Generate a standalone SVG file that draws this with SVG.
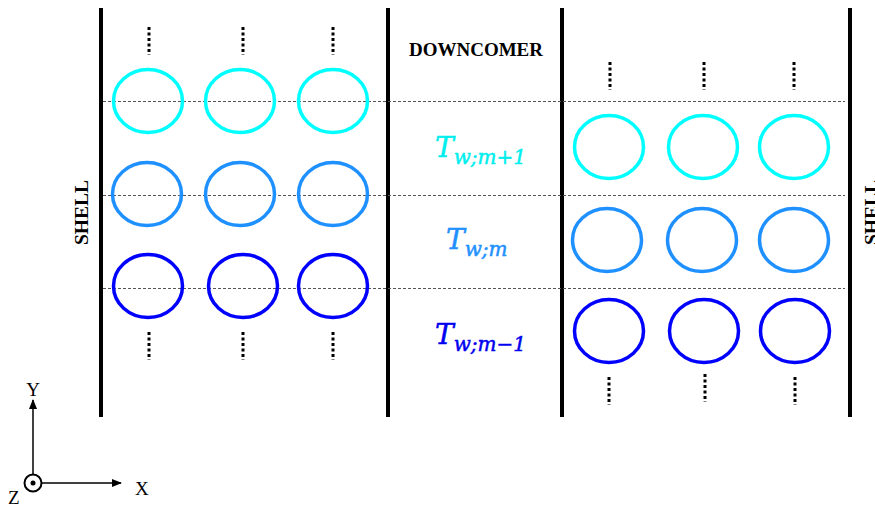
<svg xmlns="http://www.w3.org/2000/svg" width="875" height="507" viewBox="0 0 875 507">
<style>
.wall{stroke:#000;stroke-width:4}
.dash{stroke:#555;stroke-width:1;stroke-dasharray:3 2;fill:none}
.tube{fill:none;stroke-width:3.5}
.c1{stroke:#00FFFF}
.c2{stroke:#1E90FF}
.c3{stroke:#0000FF}
.dots{stroke:#000;stroke-width:3;stroke-dasharray:3 2.5}
.lbl{font-family:"Liberation Serif",serif;font-weight:bold;fill:#000}
.tl{font-family:"DejaVu Serif","Liberation Serif",serif;font-style:italic;stroke-width:0.5}
.ax{font-family:"Liberation Serif",serif;font-size:19px;fill:#000}
</style>
<defs>
<marker id="ah" markerWidth="10" markerHeight="8" refX="9" refY="4" orient="auto" markerUnits="userSpaceOnUse">
<path d="M0,0 L10,4 L0,8 z" fill="#000"/>
</marker>
</defs>
<g id="walls">
<line class="wall" x1="101" y1="8" x2="101" y2="417"/>
<line class="wall" x1="388" y1="8" x2="388" y2="417"/>
<line class="wall" x1="562" y1="8" x2="562" y2="417"/>
<line class="wall" x1="850" y1="8" x2="850" y2="417"/>
</g>
<g id="levels">
<line class="dash" x1="103" y1="101.5" x2="845" y2="101.5"/>
<line class="dash" x1="103" y1="195.5" x2="845" y2="195.5"/>
<line class="dash" x1="103" y1="288.5" x2="845" y2="288.5"/>
</g>
<g id="left-tubes">
<ellipse class="tube c1" cx="148" cy="101" rx="34.5" ry="31.5"/>
<ellipse class="tube c1" cx="240" cy="101" rx="34.5" ry="31.5"/>
<ellipse class="tube c1" cx="333" cy="101" rx="34.5" ry="31.5"/>
<ellipse class="tube c2" cx="147" cy="194" rx="34.5" ry="31.5"/>
<ellipse class="tube c2" cx="240" cy="194" rx="34.5" ry="31.5"/>
<ellipse class="tube c2" cx="333" cy="194" rx="34.5" ry="31.5"/>
<ellipse class="tube c3" cx="148" cy="286" rx="34.5" ry="31.5"/>
<ellipse class="tube c3" cx="243" cy="286" rx="34.5" ry="31.5"/>
<ellipse class="tube c3" cx="333" cy="286" rx="34.5" ry="31.5"/>
</g>
<g id="right-tubes">
<ellipse class="tube c1" cx="609" cy="147" rx="34.5" ry="31.5"/>
<ellipse class="tube c1" cx="703" cy="147" rx="34.5" ry="31.5"/>
<ellipse class="tube c1" cx="794" cy="147" rx="34.5" ry="31.5"/>
<ellipse class="tube c2" cx="607" cy="240" rx="34.5" ry="31.5"/>
<ellipse class="tube c2" cx="702" cy="240" rx="34.5" ry="31.5"/>
<ellipse class="tube c2" cx="794" cy="240" rx="34.5" ry="31.5"/>
<ellipse class="tube c3" cx="609" cy="331" rx="34.5" ry="31.5"/>
<ellipse class="tube c3" cx="704" cy="331" rx="34.5" ry="31.5"/>
<ellipse class="tube c3" cx="795" cy="331" rx="34.5" ry="31.5"/>
</g>
<g id="continuation">
<line class="dots" x1="149" y1="27" x2="149" y2="55"/>
<line class="dots" x1="243" y1="27" x2="243" y2="55"/>
<line class="dots" x1="333" y1="27" x2="333" y2="55"/>
<line class="dots" x1="149" y1="332" x2="149" y2="360"/>
<line class="dots" x1="243" y1="332" x2="243" y2="360"/>
<line class="dots" x1="333" y1="332" x2="333" y2="360"/>
<line class="dots" x1="610" y1="62" x2="610" y2="90"/>
<line class="dots" x1="704" y1="62" x2="704" y2="90"/>
<line class="dots" x1="794" y1="62" x2="794" y2="90"/>
<line class="dots" x1="609" y1="377" x2="609" y2="405"/>
<line class="dots" x1="705" y1="374" x2="705" y2="402"/>
<line class="dots" x1="795" y1="377" x2="795" y2="405"/>
</g>
<g id="labels">
<text class="lbl" x="476" y="56" text-anchor="middle" style="font-size:19px">DOWNCOMER</text>
<text class="lbl" transform="translate(88,212.5) rotate(-90)" text-anchor="middle" style="font-size:19.5px">SHELL</text>
<text class="lbl" transform="translate(878,212.5) rotate(-90)" text-anchor="middle" style="font-size:19.5px">SHELL</text>
</g>
<g id="temps">
<text class="tl" x="435" y="157" fill="#00EEEE" stroke="#00EEEE" font-size="28">T<tspan font-size="20" dy="7">w;m+1</tspan></text>
<text class="tl" x="446" y="249" fill="#1E90FF" stroke="#1E90FF" font-size="28">T<tspan font-size="20" dy="7">w;m</tspan></text>
<text class="tl" x="435" y="344" fill="#0000F0" stroke="#0000F0" font-size="28">T<tspan font-size="20" dy="7">w;m−1</tspan></text>
</g>
<g id="axes">
<line x1="33" y1="474" x2="33" y2="400" stroke="#000" stroke-width="1.5" marker-end="url(#ah)"/>
<line x1="42" y1="483" x2="121" y2="483" stroke="#000" stroke-width="1.5" marker-end="url(#ah)"/>
<circle cx="33" cy="483" r="8.5" fill="none" stroke="#000" stroke-width="2"/>
<circle cx="33" cy="483" r="2.5" fill="#000"/>
<text class="ax" x="33" y="396" text-anchor="middle">Y</text>
<text class="ax" x="135" y="495">X</text>
<text class="ax" x="8" y="504">Z</text>
</g>
</svg>
